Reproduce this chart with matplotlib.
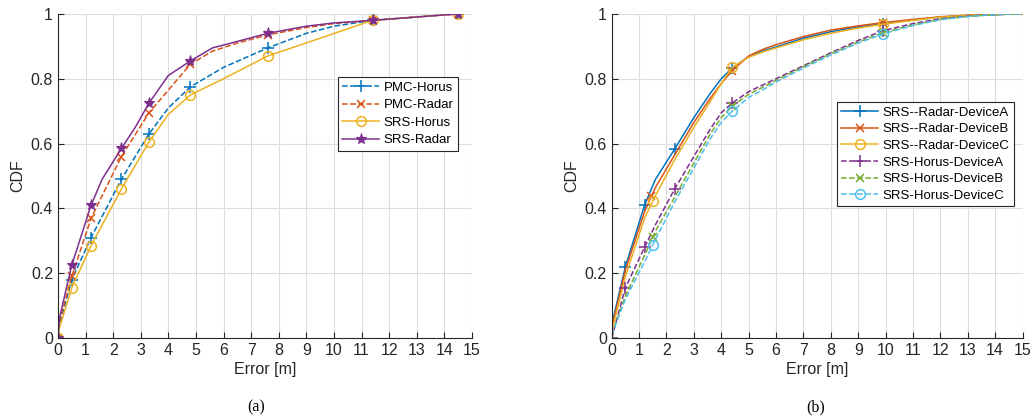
import numpy as np
import matplotlib
matplotlib.use("Agg")
import matplotlib.pyplot as plt

plt.rcParams['font.family'] = ['Liberation Sans', 'DejaVu Sans']

# ---- panel (a) ----
pmc_horus_x = [0, 0.05, 0.5, 1.2, 2.3, 3.3, 4.0, 4.8, 6.0, 7.6, 9.0, 10.0, 11.4, 14.5]
pmc_horus_y = [0, 0.04, 0.18, 0.31, 0.49, 0.63, 0.71, 0.775, 0.835, 0.895, 0.94, 0.962, 0.98, 1.0]
pmc_horus_mk = [0, 2, 3, 4, 5, 7, 9, 12, 13]

pmc_radar_x = [0, 0.05, 0.5, 1.2, 2.3, 3.3, 4.8, 5.6, 6.5, 7.6, 9.0, 10.0, 11.4, 14.5]
pmc_radar_y = [0, 0.05, 0.19, 0.37, 0.56, 0.695, 0.845, 0.885, 0.91, 0.935, 0.958, 0.97, 0.98, 1.0]
pmc_radar_mk = [0, 2, 3, 4, 5, 6, 9, 12, 13]

srs_horus_x = [0, 0.05, 0.5, 1.2, 2.3, 3.3, 4.0, 4.8, 6.0, 7.6, 9.5, 11.4, 14.5]
srs_horus_y = [0, 0.03, 0.155, 0.285, 0.46, 0.605, 0.69, 0.75, 0.80, 0.87, 0.925, 0.98, 1.0]
srs_horus_mk = [0, 2, 3, 4, 5, 7, 9, 11, 12]

srs_radar_x = [0, 0.05, 0.5, 1.2, 1.6, 2.3, 2.8, 3.3, 4.0, 4.8, 5.6, 6.5, 7.6, 9.0, 10.0, 11.4, 14.5]
srs_radar_y = [0, 0.06, 0.225, 0.41, 0.49, 0.585, 0.65, 0.725, 0.81, 0.855, 0.895, 0.915, 0.94, 0.962, 0.972, 0.98, 1.0]
srs_radar_mk = [0, 2, 3, 5, 7, 9, 12, 15, 16]

# ---- panel (b) ----
dev_x = [0, 0.5, 1.2, 1.6, 2.3, 3.0, 3.6, 4.0, 4.4, 5.0, 5.5, 6.0, 7.0, 8.0, 9.0, 9.9, 11.0, 12.0, 13.0, 14.0, 15.0]
radar_a = [0.04, 0.22, 0.41, 0.49, 0.583, 0.68, 0.755, 0.80, 0.833, 0.868, 0.885, 0.898, 0.925, 0.945, 0.96, 0.97, 0.981, 0.99, 0.995, 0.998, 1.0]
radar_b = [0.03, 0.21, 0.39, 0.465, 0.565, 0.665, 0.74, 0.785, 0.825, 0.87, 0.89, 0.905, 0.93, 0.95, 0.963, 0.973, 0.983, 0.991, 0.996, 0.998, 1.0]
radar_c = [0.02, 0.19, 0.37, 0.44, 0.55, 0.65, 0.73, 0.785, 0.835, 0.866, 0.882, 0.895, 0.92, 0.94, 0.956, 0.968, 0.98, 0.99, 0.995, 0.998, 1.0]
horus_a = [0.0, 0.155, 0.28, 0.35, 0.46, 0.56, 0.645, 0.695, 0.725, 0.76, 0.78, 0.80, 0.84, 0.88, 0.918, 0.948, 0.97, 0.985, 0.993, 0.998, 1.0]
horus_b = [0.01, 0.13, 0.255, 0.33, 0.435, 0.54, 0.63, 0.68, 0.715, 0.752, 0.773, 0.795, 0.837, 0.877, 0.913, 0.942, 0.966, 0.983, 0.992, 0.998, 1.0]
horus_c = [0.01, 0.12, 0.235, 0.305, 0.42, 0.525, 0.615, 0.665, 0.70, 0.742, 0.765, 0.79, 0.833, 0.873, 0.91, 0.938, 0.964, 0.982, 0.992, 0.998, 1.0]

# marker x positions per curve
radar_a_mk_x = [0.5, 1.2, 2.3, 4.4, 9.9]
radar_b_mk_x = [1.45, 4.4, 9.9]
radar_c_mk_x = [1.5, 4.4, 9.9]
horus_a_mk_x = [0.0, 0.5, 1.2, 2.3, 4.4, 9.9]
horus_b_mk_x = [1.5, 4.4, 9.9]
horus_c_mk_x = [1.5, 4.4, 9.9]

blue = '#0072BD'
red = '#D95319'
yellow = '#EDB120'
purple = '#7E2F8E'
green = '#77AC30'
cyan = '#4DBEEE'

fig = plt.figure(figsize=(10.35, 4.2), dpi=100)
ax1 = fig.add_axes([0.056, 0.195, 0.400, 0.772])
ax2 = fig.add_axes([0.591, 0.195, 0.397, 0.772])

lw = 1.1
ax1.plot(pmc_horus_x, pmc_horus_y, '--', color=blue, lw=lw, marker='+', ms=8, mew=1.1,
         markevery=pmc_horus_mk, label='PMC-Horus')
ax1.plot(pmc_radar_x, pmc_radar_y, '--', color=red, lw=lw, marker='x', ms=6, mew=1.1,
         markevery=pmc_radar_mk, label='PMC-Radar')
ax1.plot(srs_horus_x, srs_horus_y, '-', color=yellow, lw=lw, marker='o', ms=7, mfc='none', mew=1.1,
         markevery=srs_horus_mk, label='SRS-Horus')
ax1.plot(srs_radar_x, srs_radar_y, '-', color=purple, lw=lw, marker='*', ms=8, mew=0.8,
         markevery=srs_radar_mk, label='SRS-Radar')

handles = []
for y, mk, ls, c, m, lab, ms in [
        (radar_a, radar_a_mk_x, '-', blue, '+', 'SRS--Radar-DeviceA', 8),
        (radar_b, radar_b_mk_x, '-', red, 'x', 'SRS--Radar-DeviceB', 6),
        (radar_c, radar_c_mk_x, '-', yellow, 'o', 'SRS--Radar-DeviceC', 7),
        (horus_a, horus_a_mk_x, '--', purple, '+', 'SRS-Horus-DeviceA', 8),
        (horus_b, horus_b_mk_x, '--', green, 'x', 'SRS-Horus-DeviceB', 6),
        (horus_c, horus_c_mk_x, '--', cyan, 'o', 'SRS-Horus-DeviceC', 7)]:
    ax2.plot(dev_x, y, ls, color=c, lw=lw)
    ax2.plot(mk, np.interp(mk, dev_x, y), ls='none', color=c, marker=m, ms=ms, mfc='none', mew=1.1)
    h, = ax2.plot([], [], ls, color=c, lw=lw, marker=m, ms=ms, mfc='none', mew=1.1, label=lab)
    handles.append(h)

for ax in (ax1, ax2):
    ax.set_xlim(0, 15)
    ax.set_ylim(0, 1)
    ax.set_xticks(range(16))
    ax.set_yticks([0, 0.2, 0.4, 0.6, 0.8, 1.0])
    ax.set_yticklabels(['0', '0.2', '0.4', '0.6', '0.8', '1'])
    ax.grid(True, color='#dcdcdc', lw=0.8)
    ax.set_axisbelow(True)
    for s in ('top', 'right'):
        ax.spines[s].set_visible(False)
    for s in ('left', 'bottom'):
        ax.spines[s].set_color('#262626')
        ax.spines[s].set_linewidth(0.8)
    ax.tick_params(direction='in', length=4, width=0.8, color='#262626',
                   labelsize=11.5, labelcolor='#262626')
    ax.set_xlabel('Error [m]', fontsize=11.5, color='#262626', labelpad=3)
    ax.set_ylabel('CDF', fontsize=11.5, color='#262626', labelpad=4)

leg1 = ax1.legend(loc='upper right', bbox_to_anchor=(0.966, 0.806), borderaxespad=0,
                  fontsize=9.5, handlelength=2.8, handletextpad=0.3, labelspacing=0.4,
                  borderpad=0.35, fancybox=False, framealpha=1, edgecolor='#262626')
leg1.get_frame().set_linewidth(0.8)
leg2 = ax2.legend(handles=handles, loc='upper right', bbox_to_anchor=(0.978, 0.728), borderaxespad=0,
                  fontsize=9.5, handlelength=2.8, handletextpad=0.3, labelspacing=0.33,
                  borderpad=0.35, fancybox=False, framealpha=1, edgecolor='#262626')
leg2.get_frame().set_linewidth(0.8)

fig.text(0.247, 0.029, '(a)', family='Liberation Serif', fontsize=11.5, ha='center', va='center')
fig.text(0.788, 0.029, '(b)', family='Liberation Serif', fontsize=11.5, ha='center', va='center')

fig.savefig('out.png', dpi=100)
